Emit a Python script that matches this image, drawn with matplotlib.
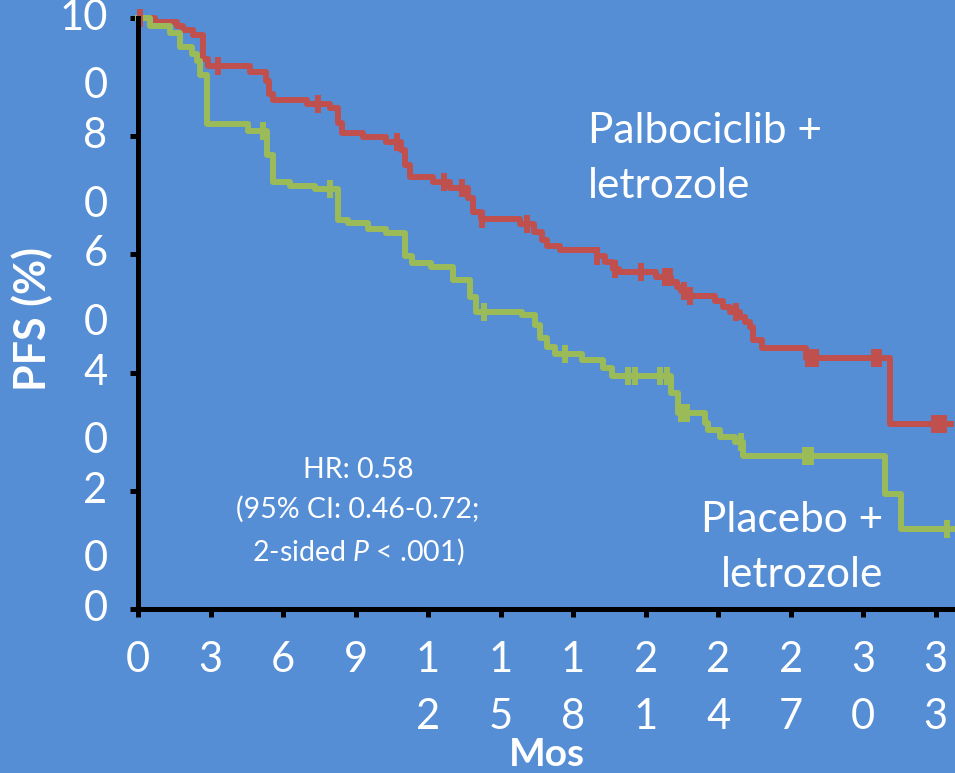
import matplotlib.pyplot as plt
from matplotlib.transforms import ScaledTranslation
import numpy as np

BG = "#558ED5"
RED = "#C0504D"
GREEN = "#9BBB59"

plt.rcParams.update({
    "font.family": "Lato",
    "mathtext.fontset": "custom",
    "mathtext.it": "Lato:italic",
    "mathtext.rm": "Lato",
})

# Palbociclib + letrozole (step times in months, PFS %)
pal_t = [0, 0.70, 1.6, 1.86, 2.27, 2.69, 2.9, 4.63, 5.3, 5.44, 5.6, 6.98, 7.94,
         8.27, 8.42, 9.3, 10.28, 10.9, 11.04, 11.25, 12.2, 12.9, 13.65, 13.85,
         14.2, 15.8, 16.4, 16.7, 16.9, 17.45, 18.97, 19.3, 19.66, 19.9, 21.45,
         22.07, 22.28, 22.48, 22.76, 23.86, 24.2, 24.48, 24.9, 25.1, 25.3, 25.45,
         25.8, 27.65, 31.1, 33.65]
pal_s = [100, 99.3, 98.7, 98.0, 97.2, 93.1, 91.9, 90.8, 89.4, 87.2, 86.2, 85.4,
         84.7, 82.2, 80.5, 79.8, 79.0, 77.6, 75.1, 73.1, 72.2, 71.3, 69.5, 67.2,
         66.0, 65.2, 63.8, 62.4, 61.4, 60.7, 59.8, 58.7, 57.6, 57.0, 56.2, 55.3,
         54.5, 53.8, 53.0, 52.1, 51.1, 50.3, 49.4, 48.6, 47.8, 45.6, 44.2, 42.4,
         31.3, 31.3]
pal_cens = [0.1, 3.3, 7.45, 10.7, 12.67, 13.4, 14.25, 16.1, 19.0, 19.75, 20.83,
            21.8, 22.0, 22.6, 22.85, 24.76, 27.7, 27.85, 28.05, 30.45, 30.65,
            32.95, 33.15, 33.35]

# Placebo + letrozole
plac_t = [0, 0.5, 1.32, 1.74, 2.22, 2.45, 2.55, 2.84, 4.56, 5.32, 5.6, 6.29,
          7.32, 8.28, 8.7, 9.52, 10.28, 11.04, 11.32, 12.14, 13.04, 13.73, 14.0,
          15.87, 16.42, 16.62, 16.9, 17.25, 18.35, 19.25, 19.6, 22.07, 22.35,
          23.45, 23.6, 24.07, 24.7, 25.03, 30.9, 31.55, 33.8]
plac_s = [100, 98.6, 97.5, 95.1, 93.9, 92.8, 90.3, 82.1, 80.8, 76.8, 72.2, 71.6,
          71.0, 65.8, 65.3, 64.3, 63.6, 59.8, 58.5, 57.9, 55.7, 52.8, 50.3, 49.7,
          48.0, 45.8, 44.3, 43.2, 42.2, 40.7, 39.4, 36.5, 33.1, 31.4, 30.3, 29.1,
          28.3, 25.9, 19.4, 13.5, 13.5]
plac_cens = [5.18, 7.94, 14.3, 17.66, 20.28, 20.55, 21.6, 21.9, 22.45, 22.7,
             24.96, 27.6, 27.85, 33.45]

x_ticks = list(range(0, 34, 3))
x_labels = ["0", "3", "6", "9", "1\n2", "1\n5", "1\n8", "2\n1", "2\n4", "2\n7",
            "3\n0", "3\n3"]
y_ticks = [0, 20, 40, 60, 80, 100]
y_labels = ["0", "2\n0", "4\n0", "6\n0", "8\n0", "10\n0"]


def at(times, surv, c):
    idx = np.searchsorted(times, c, side="right") - 1
    return np.asarray(surv)[idx]


fig = plt.figure(figsize=(9.55, 7.73), dpi=100, facecolor=BG)
ax = fig.add_axes([138 / 955, 164 / 773, 817 / 955, 591 / 773])
ax.set_facecolor(BG)

for t, s, c, col in [(pal_t, pal_s, pal_cens, RED), (plac_t, plac_s, plac_cens, GREEN)]:
    ax.step(t, s, where="post", color=col, lw=4.3, clip_on=False, zorder=3)
    ax.plot(c, at(t, s, c), ls="none", marker="|", ms=13, mew=4.3,
            color=col, clip_on=False, zorder=4)

ax.set_xlim(0, 33.8)
ax.set_ylim(0, 100)
for side in ["top", "right"]:
    ax.spines[side].set_visible(False)
for side in ["left", "bottom"]:
    ax.spines[side].set_linewidth(3.6)
    ax.spines[side].set_color("black")
    ax.spines[side].set_zorder(5)

ax.tick_params(length=6, width=3.6, color="black", labelcolor="white",
               labelsize=30, direction="out")
ax.set_xticks(x_ticks)
ax.set_xticklabels(x_labels, linespacing=1.6)
ax.tick_params(axis="x", pad=17)
ax.set_yticks(y_ticks)
ax.set_yticklabels(y_labels, linespacing=1.98, va="top")
ax.tick_params(axis="y", pad=16)
shift = ScaledTranslation(0, 0.19, fig.dpi_scale_trans)
for lab in ax.get_yticklabels():
    lab.set_transform(lab.get_transform() + shift)

ax.set_xlabel("Mos", color="white", fontsize=28, fontweight="bold")
ax.xaxis.label.set_va("center")
ax.xaxis.set_label_coords(0.5, -145 / 591)
ax.set_ylabel("PFS (%)", color="white", fontsize=31, fontweight="bold")
ax.yaxis.label.set_va("center")
ax.yaxis.set_label_coords(-106 / 817, 0.49)

ax.text(18.6, 76.2, "Palbociclib +\nletrozole", color="white", fontsize=30.5,
        ha="left", va="center", linespacing=1.53)
ax.text(30.85, 10.4, "Placebo +\nletrozole", color="white", fontsize=30.5,
        ha="right", va="center", linespacing=1.55)
ax.text(9.1, 16.4, "HR: 0.58\n(95% CI: 0.46-0.72;\n2-sided $P$ < .001)",
        color="white", fontsize=20.5, ha="center", va="center", linespacing=1.56)

fig.savefig("out.png", dpi=100, facecolor=BG)
